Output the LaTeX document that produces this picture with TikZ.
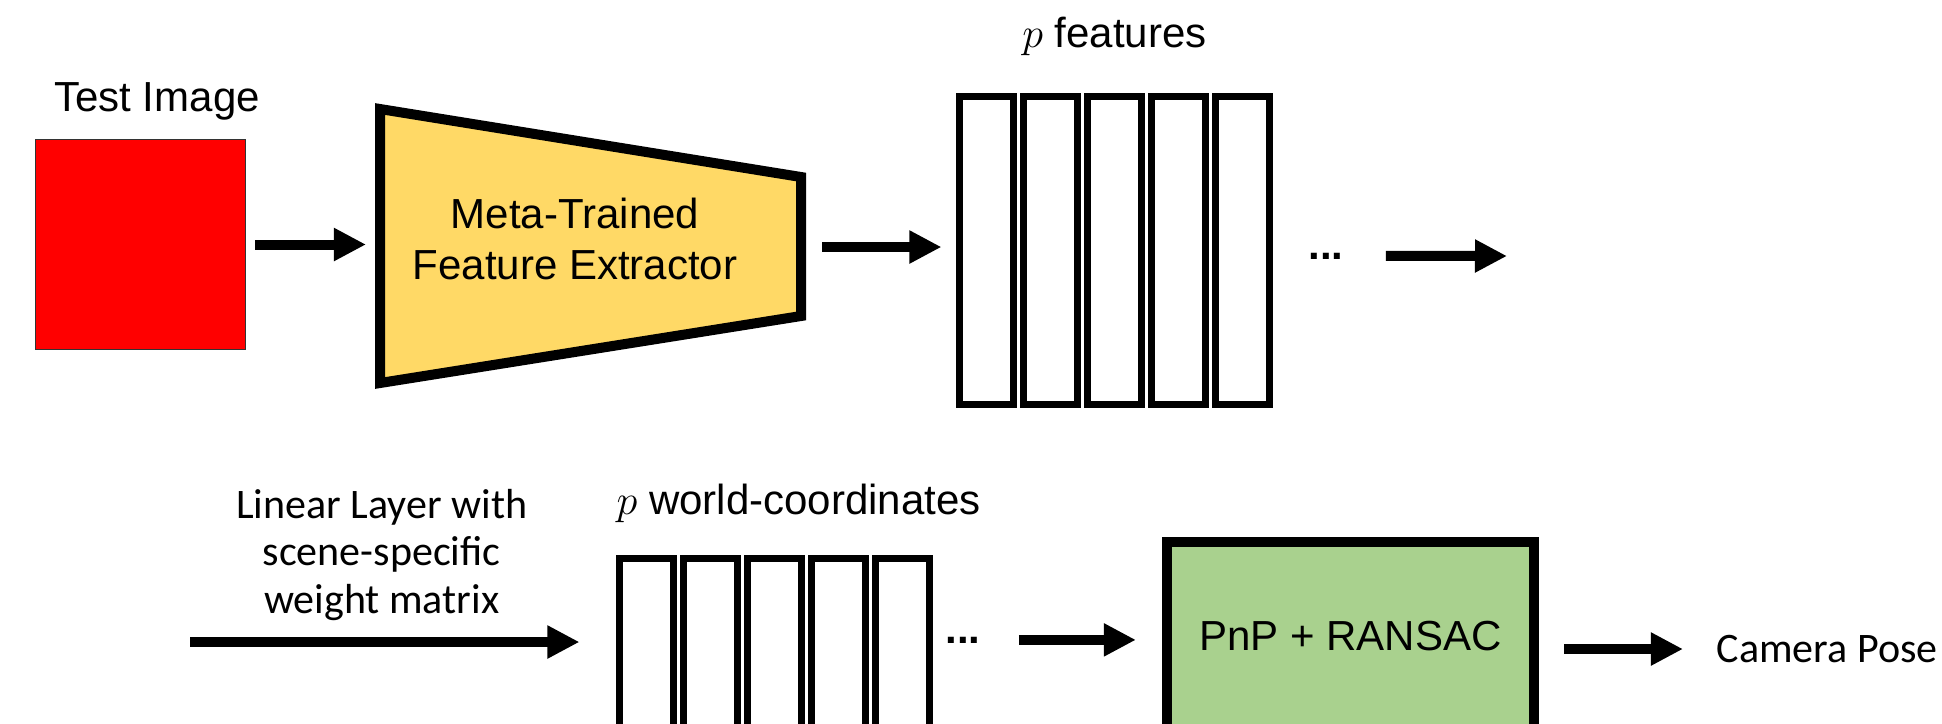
\documentclass[tikz,border=0pt]{standalone}
\usepackage{fontspec}
\setmainfont{Liberation Sans}
\newfontfamily\calibri{Carlito}
\usepackage{xcolor}
\usetikzlibrary{arrows.meta,positioning}
\definecolor{extractor}{HTML}{FFD966}
\definecolor{solver}{HTML}{A9D18E}

\begin{document}
\begin{tikzpicture}[x=0.01cm, y=-0.01cm,
  every node/.style={inner sep=0pt, font=\fontsize{11.95}{14.5}\selectfont},
  cal/.style={font=\fontsize{11.95}{13.5}\selectfont\calibri},
  bar/.style={draw, line width=0.07cm, minimum width=0.54cm, minimum height=3.08cm},
  arrow/.style={-{Triangle[length=0.32cm, width=0.31cm]}, line width=0.1cm}
]
\useasboundingbox (0,0) rectangle (1942,723);
\clip (0,0) rectangle (1942,723);
\node[draw=black!80, line width=0.015cm, fill=red, minimum size=2.095cm] (img) at (140.5,244.5) {};
\node[above=0.18cm of img, xshift=0.165cm] (imglabel) {Test Image};
\draw[line width=0.1cm, fill=extractor] (380,109) -- (801,177) -- (801,316) -- (380,383) -- cycle;
\coordinate (feL) at (380,244);
\coordinate (feR) at (801,247);
\node[align=center] (fe) at (575,239) {Meta-Trained\\Feature Extractor};
\foreach \i in {1,...,5}
  \node[bar] (f\i) at ({986.5+64*(\i-1)},250.5) {};
\node[above=0.365cm of f3] (flabel) {$p$ features};
\node[anchor=base] (dots1) at (1326,259) {\textbf{...}};
\coordinate (out) at (1507,256);
\coordinate (lin) at (190,642);
\foreach \i in {1,...,5}
  \node[bar] (g\i) at ({646.5+64*(\i-1)},712.5) {};
\node[above right=0.315cm and 0cm of g1.north west] (glabel) {$p$ world-coordinates};
\node[anchor=base] (dots2) at (963,643) {\textbf{...}};
\node[draw, line width=0.1cm, fill=solver, minimum width=3.67cm, minimum height=1.88cm] (pnp) at (1350.5,636) {PnP + RANSAC};
\node[cal, anchor=west] (cam) at (1716,649) {Camera Pose};
\draw[arrow, shorten <=0.09cm, shorten >=0.14cm] (img.east) -- (img.east -| feL);
\draw[arrow, shorten <=0.21cm, shorten >=0.145cm] (feR) -- (feR -| f1.west);
\draw[arrow, shorten <=0.415cm] (dots1.east) -- (out);
\draw[arrow, shorten >=0.365cm] (lin) -- node[cal, above=0.165cm, pos=0.45, align=center] (linlabel) {Linear Layer with\\scene-specific\\weight matrix} (lin -| g1.west);
\draw[arrow, shorten <=0.375cm, shorten >=0.26cm] (dots2.east) -- (dots2.east -| pnp.west);
\draw[arrow, shorten <=0.25cm, shorten >=0.33cm] (pnp.east |- cam.west) -- (cam.west);
\end{tikzpicture}
\end{document}
